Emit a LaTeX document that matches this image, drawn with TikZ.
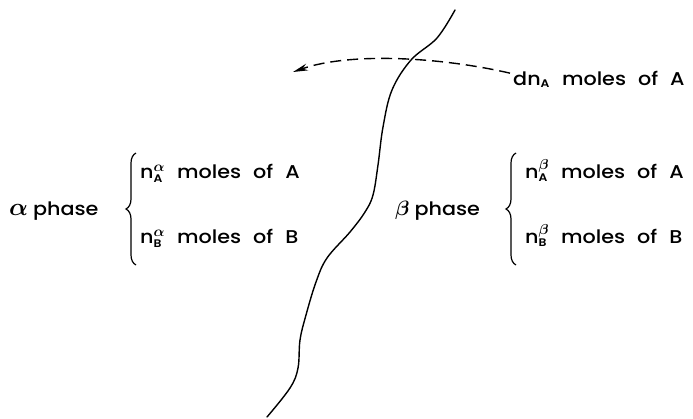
\documentclass[tikz,border=0pt]{standalone}
\usepackage{fontspec}
\setmainfont{Poppins}[UprightFont={* Medium}, BoldFont={* SemiBold}, FakeStretch=1.12]
\usetikzlibrary{arrows.meta,decorations.pathreplacing}
\tikzset{
  lbl/.style={anchor=base west, inner sep=0pt, font=\fontsize{18.5}{20}\selectfont},
  bound/.style={line width=1.4pt, line cap=round},
  brc/.style={line width=1.2pt, decorate, decoration={brace, amplitude=10pt}},
  flow/.style={line width=1.4pt, dash pattern=on 11pt off 6pt, -{Stealth[length=15pt,width=7pt]}}
}
\newcommand{\sbs}[1]{\mbox{\fontsize{11}{11}\selectfont\bfseries #1}}
\newcommand{\sps}[1]{\mbox{\fontsize{15}{15}\selectfont\boldmath$#1$}}
\newcommand{\nn}[2]{n$^{\sps{#1}}_{\sbs{#2}}$}
\newcommand{\wg}{\hspace{12pt}}
\begin{document}
\begin{tikzpicture}[x=1pt,y=-1pt]
\useasboundingbox (0,0) rectangle (693,418);
% interface
\draw[bound] plot[smooth, tension=0.6] coordinates {(455,10) (437,38) (411,60) (392,90) (383,127) (378,165) (373,195) (365,212) (350,232) (327,258) (316,282) (306,315) (300,340) (298,368) (290,388) (267,417)};
% labels
\node[lbl] (dn) at (513,85) {dn$_{\sbs{A}}$\wg moles\wg of\wg A};
\coordinate (tip) at (293,72);
\draw[flow] (dn.west) ++(-3,-6) .. controls (440,57) and (350,52) .. (tip);
% alpha phase
\node[lbl] (ap) at (9,215) {\mbox{\fontsize{23}{23}\selectfont\boldmath$\alpha$}\hspace{5pt}phase};
\node[lbl] (aA) at (140,178) {\nn{\alpha}{A}\wg moles\wg of\wg A};
\node[lbl] (aB) at (140,243) {\nn{\alpha}{B}\wg moles\wg of\wg B};
\coordinate (ab1) at (136,265);
\coordinate (ab2) at (136,153);
\draw[brc] (ab1) -- (ab2);
% beta phase
\node[lbl] (bp) at (395,215) {\mbox{\fontsize{22}{22}\selectfont\boldmath$\beta$}\hspace{5pt}phase};
\node[lbl] (bA) at (525,178) {\nn{\beta}{A}\wg moles\wg of\wg A};
\node[lbl] (bB) at (525,243) {\nn{\beta}{B}\wg moles\wg of\wg B};
\coordinate (bb1) at (516,265);
\coordinate (bb2) at (516,153);
\draw[brc] (bb1) -- (bb2);
\end{tikzpicture}
\end{document}
